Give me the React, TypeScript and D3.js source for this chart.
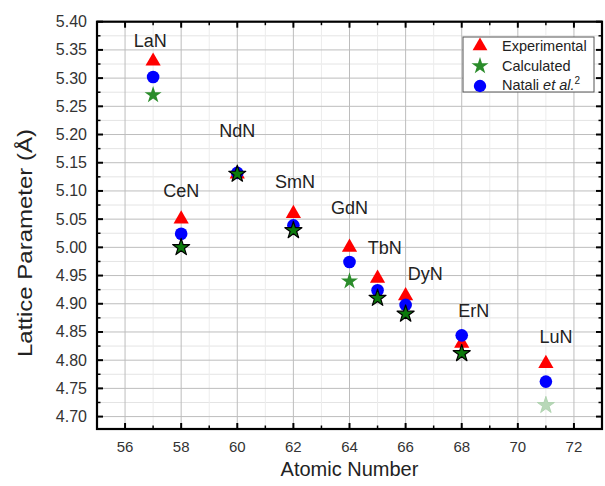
import * as d3 from "d3";

// Rare-earth nitrides, lattice parameter vs atomic number
const compounds = ["LaN", "CeN", "NdN", "SmN", "GdN", "TbN", "DyN", "ErN", "LuN"];
const atomicNumbers = [57, 58, 60, 62, 64, 65, 66, 68, 71];
const experimental = [5.33, 5.05, 5.13, 5.06, 5.0, 4.945, 4.914, 4.83, 4.794];
const calculated = [5.27, 5.0, 5.13, 5.03, 4.94, 4.91, 4.882, 4.812, 4.72];
const natali = [5.302, 5.024, 5.132, 5.039, 4.974, 4.924, 4.898, 4.844, 4.762];

// where the compound names sit (data units: atomic number, lattice value at baseline)
const labelX = [56.9, 58, 60, 62.06, 64, 65.26, 66.7, 68.43, 71.36];
const labelY = [5.355, 5.089, 5.196, 5.105, 5.059, 4.988, 4.942, 4.876, 4.831];

const yTickLabels = ["5.40", "5.35", "5.30", "5.25", "5.20", "5.15", "5.10", "5.05", "5.00", "4.95", "4.90", "4.85", "4.80", "4.75", "4.70"];
const xTickLabels = [56, 58, 60, 62, 64, 66, 68, 70, 72];

// star styling: which ones have the black outline, which one is faded
const outlinedStars = ["CeN", "NdN", "SmN", "TbN", "DyN", "ErN"];
const fadedStars = ["LuN"];

const W = 605;
const H = 486;
const left = 97;
const right = 602;
const top = 21.7;
const bottom = 429;
const FONT = "'Liberation Sans', Arial, sans-serif";

export default function App() {
  const x = d3.scaleLinear().domain([55, 73]).range([left, right]);
  const y = d3.scaleLinear().domain([4.678, 5.4]).range([bottom, top]);

  const yMajor = yTickLabels.map(Number);
  const yMinor = d3.range(0, 14).map((i) => 4.725 + i * 0.05);
  const xMajor = xTickLabels;
  const xMinor = d3.range(55, 74).filter((d) => d % 2 === 1);

  const tri = d3.symbol(d3.symbolTriangle, 100)()!;
  const star = d3.symbol(d3.symbolStar, 90)()!;
  const circ = d3.symbol(d3.symbolCircle, 125)()!;
  const legTri = d3.symbol(d3.symbolTriangle, 95)()!;
  const legStar = d3.symbol(d3.symbolStar, 90)()!;
  const legCirc = d3.symbol(d3.symbolCircle, 120)()!;

  return (
    <div style={{ position: "absolute", left: 0, top: 0 }}>
      <svg width={W} height={H} style={{ display: "block", background: "#fff" }} fontFamily={FONT}>
        {/* grid */}
        <g>
          {yMinor.map((v) => (
            <line key={"ym" + v} x1={left} x2={right} y1={y(v)} y2={y(v)} stroke="#e4e4e4" strokeWidth={1} />
          ))}
          {xMinor.map((v) => (
            <line key={"xm" + v} x1={x(v)} x2={x(v)} y1={top} y2={bottom} stroke="#ececec" strokeWidth={1} />
          ))}
          {yMajor.slice(1).map((v) => (
            <line key={"yg" + v} x1={left} x2={right} y1={y(v)} y2={y(v)} stroke="#bdbdbd" strokeWidth={1} />
          ))}
          {xMajor.map((v) => (
            <line key={"xg" + v} x1={x(v)} x2={x(v)} y1={top} y2={bottom} stroke="#bdbdbd" strokeWidth={1} />
          ))}
        </g>

        {/* compound names */}
        {compounds.map((c, i) => (
          <text key={c} x={x(labelX[i])} y={y(labelY[i])} textAnchor="middle" fontSize={18} fill="#222">
            {c}
          </text>
        ))}

        {/* markers: triangles, circles, then stars on top */}
        {atomicNumbers.map((n, i) => (
          <path key={"t" + n} d={tri} transform={`translate(${x(n)},${y(experimental[i])})`} fill="#ff0000" />
        ))}
        {atomicNumbers.map((n, i) => (
          <path key={"c" + n} d={circ} transform={`translate(${x(n)},${y(natali[i])})`} fill="#0000ff" />
        ))}
        {atomicNumbers.map((n, i) => {
          const outlined = outlinedStars.includes(compounds[i]);
          const faded = fadedStars.includes(compounds[i]);
          return (
            <path
              key={"s" + n}
              d={star}
              transform={`translate(${x(n)},${y(calculated[i])})`}
              fill={faded ? "#b8d8b8" : outlined ? "#0b7a0b" : "#2b8c2b"}
              stroke={faded ? "#a9cfa9" : outlined ? "#000" : "none"}
              strokeWidth={outlined ? 1.2 : 0.8}
              strokeLinejoin="round"
            />
          );
        })}

        {/* frame ticks */}
        <g stroke="#000">
          {yMajor.map((v) => (
            <g key={"yt" + v}>
              <line x1={left} x2={left + 6} y1={y(v)} y2={y(v)} strokeWidth={2} />
              <line x1={right} x2={right - 6} y1={y(v)} y2={y(v)} strokeWidth={2} />
            </g>
          ))}
          {yMinor.map((v) => (
            <g key={"ytm" + v}>
              <line x1={left} x2={left + 3.5} y1={y(v)} y2={y(v)} strokeWidth={1.5} />
              <line x1={right} x2={right - 3.5} y1={y(v)} y2={y(v)} strokeWidth={1.5} />
            </g>
          ))}
          {xMajor.map((v) => (
            <g key={"xt" + v}>
              <line x1={x(v)} x2={x(v)} y1={bottom} y2={bottom - 6} strokeWidth={2} />
              <line x1={x(v)} x2={x(v)} y1={top} y2={top + 6} strokeWidth={2} />
            </g>
          ))}
          {xMinor.map((v) => (
            <g key={"xtm" + v}>
              <line x1={x(v)} x2={x(v)} y1={bottom} y2={bottom - 3.5} strokeWidth={1.5} />
              <line x1={x(v)} x2={x(v)} y1={top} y2={top + 3.5} strokeWidth={1.5} />
            </g>
          ))}
          <rect x={left} y={top} width={right - left} height={bottom - top} fill="none" strokeWidth={2.2} />
        </g>

        {/* tick labels */}
        {yTickLabels.map((t) => (
          <text key={"yl" + t} x={left - 10} y={y(Number(t)) + 5.5} textAnchor="end" fontSize={16} fill="#333">
            {t}
          </text>
        ))}
        {xTickLabels.map((t) => (
          <text key={"xl" + t} x={x(t)} y={bottom + 23} textAnchor="middle" fontSize={15} fill="#333">
            {t}
          </text>
        ))}

        {/* axis titles */}
        <text x={(left + right) / 2} y={476} textAnchor="middle" fontSize={20} fill="#222">
          Atomic Number
        </text>
        <text
          transform="translate(32,243) rotate(-90)"
          textAnchor="middle"
          fontSize={21}
          fill="#222"
          textLength={228}
          lengthAdjust="spacingAndGlyphs"
        >
          Lattice Parameter (Å)
        </text>

        {/* legend */}
        <g>
          <rect x={463} y={37} width={131} height={55} fill="#fff" stroke="#555" strokeWidth={1} />
          <path d={legTri} transform="translate(480,46)" fill="#ff0000" />
          <path d={legStar} transform="translate(480,66)" fill="#2b8c2b" />
          <path d={legCirc} transform="translate(480,86)" fill="#0000ff" />
          <text x={502} y={51} fontSize={14.5} fill="#222">Experimental</text>
          <text x={502} y={71} fontSize={14.5} fill="#222">Calculated</text>
          <text x={502} y={90} fontSize={14.5} fill="#222">
            Natali <tspan fontStyle="italic">et al.</tspan>
            <tspan fontSize={10} dy={-6}>2</tspan>
          </text>
        </g>
      </svg>
    </div>
  );
}
